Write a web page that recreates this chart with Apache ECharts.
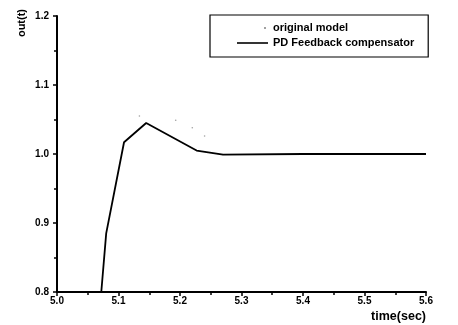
<!DOCTYPE html>
<html><head><meta charset="utf-8">
<script src="https://cdn.jsdelivr.net/npm/echarts@6/dist/echarts.min.js"></script>
<style>html,body{margin:0;padding:0;background:#fff}#c{width:458px;height:325px}</style>
</head><body><div id="c"></div>
<script>
const xTicks = [5.0, 5.1, 5.2, 5.3, 5.4, 5.5, 5.6];
const yTicks = [0.8, 0.9, 1.0, 1.1, 1.2];
const pdTime = [5.0, 5.072, 5.080, 5.109, 5.145, 5.227, 5.270, 5.400, 5.600];
const pdOut  = [0.800, 0.800, 0.885, 1.017, 1.045, 1.005, 0.999, 1.000, 1.000];
const origTime = [5.134, 5.193, 5.220, 5.240];
const origOut  = [1.055, 1.049, 1.038, 1.026];
const seriesNames = ['original model', 'PD Feedback compensator'];

const chart = echarts.init(document.getElementById('c'), null, {renderer: 'canvas'});
const font = 'Liberation Sans, Arial, sans-serif';
chart.setOption({
  animation: false,
  backgroundColor: '#fff',
  grid: {left: 57, right: 32, top: 16, bottom: 33},
  legend: {
    orient: 'vertical', left: 210, top: 15,
    padding: [7, 14, 8, 27],
    itemWidth: 31, itemHeight: 12, itemGap: 3,
    borderColor: '#000', borderWidth: 1.2,
    textStyle: {fontFamily: font, fontWeight: 'bold', fontSize: 11, color: '#000'},
    data: [
      {name: seriesNames[0], icon: 'path://M0,0 M31,12 M27,5 L29,5 L29,7 L27,7 Z', itemStyle: {color: '#888'}},
      {name: seriesNames[1], icon: 'path://M0,0 M31,12 M0,5.2 L31,5.2 L31,6.8 L0,6.8 Z', itemStyle: {color: '#000'}}
    ]
  },
  xAxis: {
    type: 'value', min: 5.0, max: 5.6, interval: 0.1,
    name: 'time(sec)', nameLocation: 'end', nameGap: 0,
    nameTextStyle: {fontFamily: font, fontWeight: 'bold', fontSize: 12.5, color: '#000', align: 'right', verticalAlign: 'top', padding: [18, 0, 0, 0]},
    axisLine: {lineStyle: {color: '#000', width: 2}},
    axisTick: {inside: false, length: 4, lineStyle: {color: '#000', width: 1.5}},
    minorTick: {show: true, splitNumber: 2, length: 3, lineStyle: {color: '#000', width: 1.5}},
    splitLine: {show: false},
    axisLabel: {margin: 4, fontFamily: font, fontWeight: 'bold', fontSize: 10, color: '#000',
      formatter: v => v.toFixed(1), customValues: xTicks}
  },
  yAxis: {
    type: 'value', min: 0.8, max: 1.2, interval: 0.1,
    name: 'out(t)', nameLocation: 'end', nameRotate: 90, nameGap: 7,
    nameTextStyle: {fontFamily: font, fontWeight: 'bold', fontSize: 11, color: '#000', align: 'right', verticalAlign: 'bottom', padding: [0, 0, 30, 0]},
    axisLine: {lineStyle: {color: '#000', width: 2}},
    axisTick: {inside: false, length: 4, lineStyle: {color: '#000', width: 1.5}},
    minorTick: {show: true, splitNumber: 2, length: 3, lineStyle: {color: '#000', width: 1.5}},
    splitLine: {show: false},
    axisLabel: {margin: 8, fontFamily: font, fontWeight: 'bold', fontSize: 10, color: '#000',
      formatter: v => v.toFixed(1), customValues: yTicks}
  },
  series: [
    {name: seriesNames[0], type: 'scatter', symbol: 'circle', symbolSize: 1.6,
      itemStyle: {color: '#888'}, data: origTime.map((t, i) => [t, origOut[i]])},
    {name: seriesNames[1], type: 'line', symbol: 'none', color: '#000',
      lineStyle: {color: '#000', width: 1.8}, data: pdTime.map((t, i) => [t, pdOut[i]])}
  ]
});
</script></body></html>
